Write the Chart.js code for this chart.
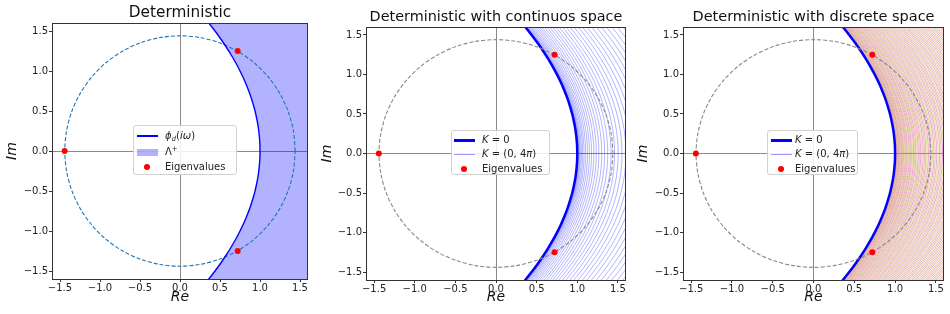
<!DOCTYPE html>
<html>
<head>
<meta charset="utf-8">
<script src="https://cdn.jsdelivr.net/npm/chart.js@4.4.1/dist/chart.umd.min.js"></script>
<style>
  html, body { margin:0; padding:0; background:#fff; }
  body { width:950px; height:314px; position:relative; overflow:hidden; font-family:"DejaVu Sans", sans-serif; }
  canvas { position:absolute; top:0; }
  .leg { position:absolute; background:rgba(255,255,255,0.85); border:1px solid #d0d0d0; border-radius:3px; box-sizing:border-box; font-size:10px; color:#222; z-index:5; }
  .row { position:absolute; left:0; right:0; height:12px; }
  .sw { position:absolute; display:block; top:50%; }
  .tx { position:absolute; top:0; line-height:12px; white-space:nowrap; }
  .tx sub { font-size:7px; vertical-align:-2px; line-height:0; }
  .tx sup { font-size:7px; vertical-align:4px; line-height:0; }
</style>
</head>
<body>
<canvas id="c1" width="316" height="314" style="left:0px"></canvas>
<canvas id="c2" width="316" height="314" style="left:316px"></canvas>
<canvas id="c3" width="318" height="314" style="left:632px"></canvas>

<div class="leg" style="left:133px;top:125px;width:104px;height:50px">
  <div class="row" style="top:4px"><span class="sw" style="left:3px;width:21px;height:1.5px;margin-top:-1px;background:#0000ff"></span><span class="tx" style="left:31px"><i>ϕ</i><sub><i>d</i></sub>(<i>iω</i>)</span></div>
  <div class="row" style="top:20px"><span class="sw" style="left:3px;width:21px;height:7px;margin-top:-3.5px;background:rgba(0,0,255,0.3)"></span><span class="tx" style="left:31px">Λ<sup>+</sup></span></div>
  <div class="row" style="top:35px"><span class="sw" style="left:10px;width:6px;height:6px;margin-top:-3px;border-radius:50%;background:#ff0000"></span><span class="tx" style="left:31px">Eigenvalues</span></div>
</div>
<div class="leg" style="left:451px;top:130px;width:99px;height:45px">
  <div class="row" style="top:3px"><span class="sw" style="left:2px;width:21px;height:2.5px;margin-top:-1px;background:#0000ff"></span><span class="tx" style="left:30px"><i>K</i> = 0</span></div>
  <div class="row" style="top:17px"><span class="sw" style="left:2px;width:21px;height:1px;background:rgba(0,0,255,0.4)"></span><span class="tx" style="left:30px"><i>K</i> = (0, 4<i>π</i>)</span></div>
  <div class="row" style="top:32px"><span class="sw" style="left:9px;width:6px;height:6px;margin-top:-3px;border-radius:50%;background:#ff0000"></span><span class="tx" style="left:30px">Eigenvalues</span></div>
</div>
<div class="leg" style="left:767px;top:130px;width:91px;height:45px">
  <div class="row" style="top:3px"><span class="sw" style="left:3px;width:21px;height:2.5px;margin-top:-1px;background:#0000ff"></span><span class="tx" style="left:27px"><i>K</i> = 0</span></div>
  <div class="row" style="top:17px"><span class="sw" style="left:3px;width:21px;height:1px;background:rgba(0,0,255,0.4)"></span><span class="tx" style="left:27px"><i>K</i> = (0, 4<i>π</i>)</span></div>
  <div class="row" style="top:32px"><span class="sw" style="left:10px;width:6px;height:6px;margin-top:-3px;border-radius:50%;background:#ff0000"></span><span class="tx" style="left:27px">Eigenvalues</span></div>
</div>

<script>
// ---------- data ----------
const axisMin = -1.6;
const axisMax = 1.6;
const tickValues = [-1.5, -1.0, -0.5, 0, 0.5, 1.0, 1.5];
const tickLabels = ['\u22121.5', '\u22121.0', '\u22120.5', '0.0', '0.5', '1.0', '1.5'];

const panelTitles = ['Deterministic', 'Deterministic with continuos space', 'Deterministic with discrete space'];

// boundary curve phi_d(i*omega) (K = 0)
const curveIm = [-1.8,-1.7,-1.6,-1.5,-1.4,-1.3,-1.2,-1.1,-1.0,-0.9,-0.8,-0.7,-0.6,-0.5,-0.4,-0.3,-0.2,-0.1,0,
                 0.1,0.2,0.3,0.4,0.5,0.6,0.7,0.8,0.9,1.0,1.1,1.2,1.3,1.4,1.5,1.6,1.7,1.8];
const curveRe = [0.190,0.278,0.360,0.438,0.510,0.578,0.640,0.698,0.750,0.798,0.840,0.878,0.910,0.938,0.960,0.978,0.990,0.998,1.000,
                 0.998,0.990,0.978,0.960,0.938,0.910,0.878,0.840,0.798,0.750,0.698,0.640,0.578,0.510,0.438,0.360,0.278,0.190];

// dashed circle through the eigenvalues
const circleRe = [1.440,1.418,1.353,1.247,1.103,0.926,0.720,0.493,0.250,0.000,-0.250,-0.493,-0.720,-0.926,-1.103,-1.247,-1.353,-1.418,
                  -1.440,-1.418,-1.353,-1.247,-1.103,-0.926,-0.720,-0.493,-0.250,0.000,0.250,0.493,0.720,0.926,1.103,1.247,1.353,1.418,1.440];
const circleIm = [0.000,0.250,0.493,0.720,0.926,1.103,1.247,1.353,1.418,1.440,1.418,1.353,1.247,1.103,0.926,0.720,0.493,0.250,
                  0.000,-0.250,-0.493,-0.720,-0.926,-1.103,-1.247,-1.353,-1.418,-1.440,-1.418,-1.353,-1.247,-1.103,-0.926,-0.720,-0.493,-0.250,0.000];

// eigenvalues
const eigRe = [-1.442, 0.721, 0.721];
const eigIm = [0, 1.249, -1.249];

// horizontal offsets of the K-curves (continuous space)
const contShift = [0.001,0.004,0.009,0.017,0.026,0.037,0.051,0.067,0.084,0.104,0.126,0.150,0.176,0.204,0.234,0.266,0.301,0.337,
                   0.375,0.416,0.459,0.503,0.550,0.599,0.650,0.703,0.758,0.815,0.875,0.936,0.999,1.065,1.133,1.202,1.274];

// horizontal offsets of the K-curves (discrete space)
const discShift = [0.003,0.007,0.013,0.020,0.027,0.035,0.043,0.052,0.061,0.071,0.081,0.091,0.102,0.113,0.125,0.137,0.149,0.161,
                   0.174,0.187,0.200,0.213,0.227,0.241,0.255,0.270,0.284,0.299,0.314,0.330,0.345,0.361,0.377,0.393,0.409,0.426,
                   0.442,0.459,0.476,0.493,0.511,0.528,0.546,0.564,0.582,0.600,0.618,0.637,0.655,0.674,0.693,0.712,0.731,0.751,
                   0.770,0.790,0.809,0.829,0.849,0.869,0.890,0.910,0.930,0.951,0.972,0.993,1.014,1.035,1.056,1.077,1.099,1.120,
                   1.142,1.164,1.186,1.208,1.230,1.252,1.275,1.300];

// ---------- helpers ----------
Chart.defaults.font.family = '"DejaVu Sans", sans-serif';
Chart.defaults.color = '#222';

function pts(re, im, shift) {
  shift = shift || 0;
  return re.map((x, i) => ({ x: x + shift, y: im[i] }));
}

const discColors = ['rgba(227,119,194,0.75)', 'rgba(188,189,34,0.55)', 'rgba(222,110,150,0.65)', 'rgba(205,150,90,0.6)'];

const framePlugin = {
  id: 'frame',
  afterDatasetsDraw(chart) {
    const a = chart.chartArea, ctx = chart.ctx;
    ctx.save();
    ctx.strokeStyle = '#333';
    ctx.lineWidth = 1;
    ctx.strokeRect(Math.round(a.left) + 0.5, Math.round(a.top) + 0.5,
                   Math.round(a.right) - Math.round(a.left) - 1, Math.round(a.bottom) - Math.round(a.top));
    ctx.restore();
  }
};

function axis(isX, titlePad, fitSize) {
  return {
    type: 'linear',
    min: axisMin,
    max: axisMax,
    afterBuildTicks: s => { s.ticks = tickValues.map(v => ({ value: v })); },
    afterFit: s => { if (isX) s.height = fitSize; else s.width = fitSize; },
    ticks: {
      autoSkip: false, maxRotation: 0, padding: isX ? 0 : 1,
      font: { size: 10 }, color: '#222',
      callback: v => tickLabels[tickValues.indexOf(v)]
    },
    grid: {
      color: c => (c.tick && c.tick.value === 0) ? '#8a8a8a' : 'rgba(0,0,0,0)',
      lineWidth: 1,
      tickColor: '#333',
      tickLength: 3
    },
    border: { display: false },
    title: {
      display: true, text: isX ? 'Re' : 'Im', color: '#111',
      font: { size: 14, style: 'italic' },
      padding: isX ? { top: 0, bottom: titlePad } : { top: titlePad, bottom: 0 }
    }
  };
}

function makeChart(id, p) {
  new Chart(document.getElementById(id), {
    type: 'scatter',
    data: { datasets: p.datasets },
    options: {
      responsive: false,
      animation: false,
      events: [],
      layout: { padding: { left: 0, right: p.padR, top: 0, bottom: 0 } },
      plugins: {
        legend: { display: false },
        tooltip: { enabled: false },
        title: {
          display: true, text: p.title, fullSize: false, color: '#111',
          font: { size: p.tSize, weight: 'normal', lineHeight: '20px' },
          padding: { top: p.tTop, bottom: p.tBot }
        }
      },
      scales: {
        x: axis(true, 8, p.xH),
        y: axis(false, p.yPad, p.yW)
      }
    },
    plugins: [framePlugin]
  });
}

function eigDataset() {
  return { data: pts(eigRe, eigIm), showLine: false,
           pointRadius: 3, pointBackgroundColor: '#ff0000', pointBorderWidth: 0 };
}
function circleDataset(color) {
  return { data: pts(circleRe, circleIm), showLine: true, pointRadius: 0,
           borderColor: color, borderWidth: 1.1, borderDash: [4, 2], tension: 0.3, fill: false };
}
function curveDataset(shift, color, width) {
  return { data: pts(curveRe, curveIm, shift), showLine: true, pointRadius: 0,
           borderColor: color, borderWidth: width, tension: 0.2, fill: false };
}

// ---------- panel 1 ----------
const fillPoly = pts(curveRe, curveIm);
fillPoly.push({ x: axisMax + 0.5, y: curveIm[curveIm.length - 1] });
fillPoly.push({ x: axisMax + 0.5, y: curveIm[0] });

makeChart('c1', {
  title: panelTitles[0], tSize: 15.3, padR: 8, tTop: 3, tBot: 0, xH: 35, yW: 52, yPad: 4,
  datasets: [
    eigDataset(),
    curveDataset(0, '#0000ff', 1.4),
    circleDataset('#1f77b4'),
    { data: fillPoly, showLine: true, pointRadius: 0, borderColor: 'rgba(0,0,0,0)', borderWidth: 0,
      tension: 0.01, backgroundColor: 'rgba(0,0,255,0.3)', fill: 'shape' }
  ]
});

// ---------- panel 2 ----------
const ds2 = [eigDataset(), circleDataset('#888888'), curveDataset(0, '#0000ff', 2.5)];
contShift.forEach(d => ds2.push(curveDataset(d, 'rgba(0,0,255,0.5)', 0.6)));
makeChart('c2', { title: panelTitles[1], tSize: 14.4, padR: 6, tTop: 7, tBot: 0, xH: 34, yW: 50, yPad: 3, datasets: ds2 });

// ---------- panel 3 ----------
const ds3 = [eigDataset(), circleDataset('#888888'), curveDataset(0, '#0000ff', 2.5)];
discShift.forEach((d, i) => ds3.push(curveDataset(d, discColors[i % discColors.length], 0.9)));
makeChart('c3', { title: panelTitles[2], tSize: 14.5, padR: 6, tTop: 7, tBot: 0, xH: 34, yW: 51, yPad: 3, datasets: ds3 });
</script>
</body>
</html>
